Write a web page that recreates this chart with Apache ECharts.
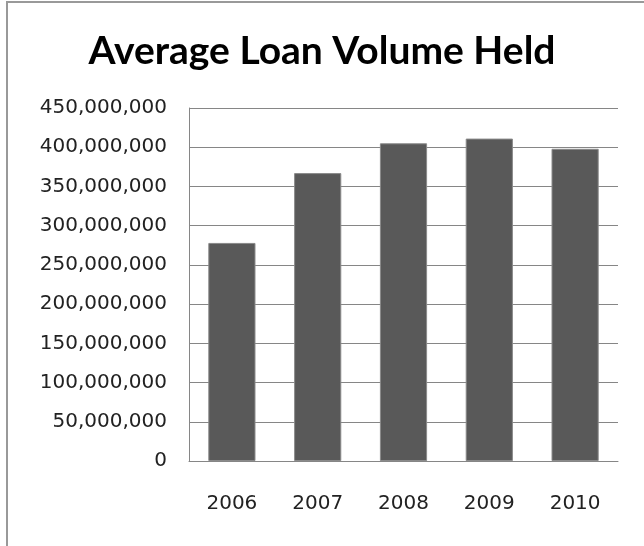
<!DOCTYPE html>
<html>
<head>
<meta charset="utf-8">
<script src="https://cdn.jsdelivr.net/npm/echarts@6/dist/echarts.min.js"></script>
<style>
  html, body { margin: 0; padding: 0; background: #fff; overflow: hidden; }
  #chart { width: 644px; height: 546px; }
  #frame { position: absolute; left: 6px; top: 1px; width: 660px; height: 580px;
           border: 2px solid #999; box-sizing: border-box; pointer-events: none; }
</style>
</head>
<body>
<div id="chart"></div>
<div id="frame"></div>
<script>
// chart data
const years = ['2006', '2007', '2008', '2009', '2010'];
const loanVolume = [278000000, 367000000, 405000000, 411000000, 398000000];
const yMin = 0;
const yMax = 450000000;
const yStep = 50000000;

const chart = echarts.init(document.getElementById('chart'));

const option = {
  animation: false,
  title: {
    text: 'Average Loan Volume Held',
    left: 'center',
    top: 27,
    textStyle: {
      fontFamily: 'Lato',
      fontWeight: 'bold',
      fontSize: 39,
      color: '#000'
    }
  },
  grid: {
    left: 189,
    right: 26,
    top: 108,
    bottom: 85
  },
  xAxis: {
    type: 'category',
    data: years,
    axisLine: { lineStyle: { color: '#868686', width: 1 } },
    axisTick: { show: false },
    axisLabel: {
      margin: 33,
      fontFamily: 'DejaVu Sans',
      fontSize: 20,
      color: '#222'
    }
  },
  yAxis: {
    type: 'value',
    min: yMin,
    max: yMax,
    interval: yStep,
    axisLine: { show: true, lineStyle: { color: '#868686', width: 1 } },
    axisTick: { show: false },
    splitLine: { lineStyle: { color: '#868686', width: 1 } },
    axisLabel: {
      margin: 22,
      fontFamily: 'DejaVu Sans',
      fontSize: 20,
      color: '#222',
      formatter: function (v) { return v.toLocaleString('en-US'); }
    }
  },
  series: [{
    type: 'bar',
    data: loanVolume,
    barWidth: '55%',
    itemStyle: { color: '#595959', borderColor: '#8a8a8a', borderWidth: 1 }
  }]
};

chart.setOption(option);
</script>
</body>
</html>
